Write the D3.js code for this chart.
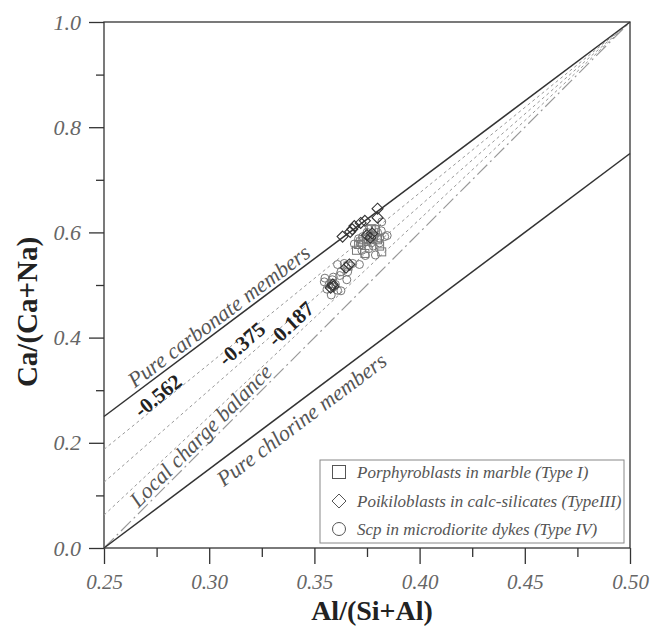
<!DOCTYPE html>
<html><head><meta charset="utf-8">
<script src="https://cdn.jsdelivr.net/npm/d3@7/dist/d3.min.js"></script>
<style>
body{margin:0;background:#fff;}
svg{display:block;}
</style></head>
<body><svg id="c" width="656" height="626"></svg>
<script>
// ---- data ----
const xTicksMajor = [0.25, 0.30, 0.35, 0.40, 0.45, 0.50];
const xTicksMinor = [0.275, 0.325, 0.375, 0.425, 0.475];
const yTicksMajor = [0.0, 0.2, 0.4, 0.6, 0.8, 1.0];
const yTicksMinor = [0.1, 0.3, 0.5, 0.7, 0.9];

// reference lines: Ca/(Ca+Na) value at Al/(Si+Al)=0.25 and 0.50
const carbonateLine = [[0.25, 0.25], [0.50, 1.00]];
const chlorineLine  = [[0.25, 0.00], [0.50, 0.75]];
const chargeLine    = [[0.25, 0.00], [0.50, 1.00]];
const dottedLabels  = ["-0.562", "-0.375", "-0.187"];
const dottedLines   = [
  [[0.25, 0.1875], [0.50, 1.00]],
  [[0.25, 0.125],  [0.50, 1.00]],
  [[0.25, 0.0625], [0.50, 1.00]]
];

const typeI = [ // Porphyroblasts in marble
  [0.370,0.566],[0.371,0.577],[0.373,0.586],[0.375,0.588],[0.378,0.592],
  [0.380,0.586],[0.381,0.574],[0.382,0.563],[0.377,0.607],[0.379,0.605],
  [0.374,0.560],[0.372,0.582],[0.358,0.503],[0.366,0.536]
];
const typeIII = [ // Poikiloblasts in calc-silicates
  [0.380,0.645],[0.380,0.628],[0.374,0.622],[0.372,0.618],[0.369,0.612],
  [0.368,0.606],[0.367,0.601],[0.3634,0.592],[0.375,0.595],[0.3766,0.590],
  [0.3774,0.598],[0.3666,0.539],[0.365,0.533],[0.3587,0.501],[0.3577,0.495],
  [0.359,0.497]
];
const typeIV = [ // Scp in microdiorite dykes
  [0.371,0.588],[0.3726,0.577],[0.3746,0.582],[0.3766,0.585],[0.3786,0.594],
  [0.380,0.600],[0.3818,0.603],[0.3834,0.592],[0.3846,0.594],[0.3758,0.569],
  [0.3742,0.556],[0.379,0.557],[0.3726,0.566],[0.381,0.580],[0.378,0.574],
  [0.375,0.600],[0.376,0.606],[0.382,0.620],[0.379,0.607],[0.377,0.580],
  [0.373,0.592],[0.369,0.578],[0.381,0.589],
  [0.361,0.539],[0.3642,0.541],[0.3682,0.541],[0.3714,0.539],[0.3626,0.525],
  [0.3658,0.525],[0.362,0.518],[0.359,0.515],[0.3654,0.510],[0.355,0.513],
  [0.3547,0.506],[0.357,0.501],[0.360,0.501],[0.3626,0.489],[0.358,0.481],
  [0.361,0.490],[0.356,0.492],[0.3585,0.510]
];
const legendLabels = [
  "Porphyroblasts in marble (Type I)",
  "Poikiloblasts in calc-silicates (TypeIII)",
  "Scp in microdiorite dykes (Type IV)"
];

// ---- drawing ----
const svg = d3.select("#c");
const L = 104, R = 630, T = 22, B = 548;
const x = d3.scaleLinear().domain([0.25, 0.50]).range([L, R]);
const y = d3.scaleLinear().domain([0, 1]).range([B, T]);
const serif = "'Liberation Serif','Times New Roman',serif";

const g = svg.append("g");

// frame
g.append("rect").attr("x", L).attr("y", T).attr("width", R - L).attr("height", B - T)
  .attr("fill", "none").attr("stroke", "#333").attr("stroke-width", 1.3);

function styleAxis(sel){
  sel.select(".domain").remove();
  sel.selectAll(".tick line").attr("stroke", "#333").attr("stroke-width", 1.3);
}
const xMaj = g.append("g").attr("transform", `translate(0,${B})`)
  .call(d3.axisBottom(x).tickValues(xTicksMajor).tickSize(16).tickPadding(10).tickFormat(d3.format(".2f")));
styleAxis(xMaj);
xMaj.selectAll("text").attr("font-family", serif).attr("font-style", "italic")
  .attr("font-size", 21).attr("fill", "#666");
const xMin = g.append("g").attr("transform", `translate(0,${B})`)
  .call(d3.axisBottom(x).tickValues(xTicksMinor).tickSize(9).tickFormat(""));
styleAxis(xMin);

const yMaj = g.append("g").attr("transform", `translate(${L},0)`)
  .call(d3.axisLeft(y).tickValues(yTicksMajor).tickSize(15).tickPadding(8).tickFormat(d3.format(".1f")));
styleAxis(yMaj);
yMaj.selectAll("text").attr("font-family", serif).attr("font-style", "italic")
  .attr("font-size", 22).attr("fill", "#666");
const yMin = g.append("g").attr("transform", `translate(${L},0)`)
  .call(d3.axisLeft(y).tickValues(yTicksMinor).tickSize(8).tickFormat(""));
styleAxis(yMin);

// axis titles
svg.append("text").attr("x", 372).attr("y", 620).attr("text-anchor", "middle")
  .attr("font-family", serif).attr("font-weight", "bold").attr("font-size", 28).attr("fill", "#222")
  .text("Al/(Si+Al)");
svg.append("text").attr("transform", "translate(37,312) rotate(-90)").attr("text-anchor", "middle")
  .attr("font-family", serif).attr("font-weight", "bold").attr("font-size", 29).attr("fill", "#222")
  .text("Ca/(Ca+Na)");

// lines
const line = d3.line().x(d => x(d[0])).y(d => y(d[1]));
dottedLines.forEach(pts => {
  g.append("path").attr("d", line(pts)).attr("fill", "none")
    .attr("stroke", "#999").attr("stroke-width", 1).attr("stroke-dasharray", "3,3");
});
g.append("path").attr("d", line(chargeLine)).attr("fill", "none")
  .attr("stroke", "#999").attr("stroke-width", 1.2).attr("stroke-dasharray", "14,4,2,4");
g.append("path").attr("d", line(carbonateLine)).attr("fill", "none")
  .attr("stroke", "#333").attr("stroke-width", 1.5);
g.append("path").attr("d", line(chlorineLine)).attr("fill", "none")
  .attr("stroke", "#333").attr("stroke-width", 1.5);

// labels along lines, centred on a point, rotated to the line's slope
function lineLabel(pts, cx, cy, text, opts){
  const ang = Math.atan2(y(pts[1][1]) - y(pts[0][1]), x(pts[1][0]) - x(pts[0][0])) * 180 / Math.PI;
  g.append("text").attr("transform", `translate(${x(cx)},${y(cy)}) rotate(${ang})`)
    .attr("x", 0).attr("y", 0).attr("dy", "0.32em").attr("text-anchor", "middle")
    .attr("font-family", serif).attr("font-size", opts.size)
    .attr("font-style", opts.italic ? "italic" : "normal")
    .attr("font-weight", opts.bold ? "bold" : "normal")
    .attr("fill", opts.color).text(text);
}
const it = {size: 22, italic: true, color: "#555"};
const bd = {size: 21, bold: true, color: "#222"};
lineLabel(carbonateLine, 0.3047, 0.4401, "Pure carbonate members", it);
lineLabel(chlorineLine, 0.3440, 0.2433, "Pure chlorine members", it);
lineLabel(chargeLine, 0.2961, 0.2129, "Local charge balance", it);
lineLabel(dottedLines[0], 0.2757, 0.2890, dottedLabels[0], bd);
lineLabel(dottedLines[1], 0.3156, 0.3878, dottedLabels[1], bd);
lineLabel(dottedLines[2], 0.3389, 0.4259, dottedLabels[2], bd);

// symbols
const sq = 8, dia = 5.5, cr = 4;
function drawSquares(sel, data, s, col){
  sel.selectAll(null).data(data).enter().append("rect")
    .attr("x", d => x(d[0]) - s/2).attr("y", d => y(d[1]) - s/2)
    .attr("width", s).attr("height", s)
    .attr("fill", "none").attr("stroke", col).attr("stroke-width", 1);
}
function drawDiamonds(sel, data, h, col){
  sel.selectAll(null).data(data).enter().append("path")
    .attr("d", d => { const cx = x(d[0]), cy = y(d[1]);
      return `M${cx},${cy-h}L${cx+h},${cy}L${cx},${cy+h}L${cx-h},${cy}Z`; })
    .attr("fill", "none").attr("stroke", col).attr("stroke-width", 1.1);
}
function drawCircles(sel, data, r, col){
  sel.selectAll(null).data(data).enter().append("circle")
    .attr("cx", d => x(d[0])).attr("cy", d => y(d[1])).attr("r", r)
    .attr("fill", "none").attr("stroke", col).attr("stroke-width", 1);
}
const pts = g.append("g");
drawCircles(pts, typeIV, cr, "#777");
drawSquares(pts, typeI, sq, "#777");
drawDiamonds(pts, typeIII, dia, "#333");

// legend
const lg = svg.append("g");
lg.append("rect").attr("x", 320).attr("y", 460).attr("width", 304).attr("height", 83)
  .attr("fill", "#fff").attr("stroke", "#888").attr("stroke-width", 1);
const rowY = [472, 501, 529];
lg.append("rect").attr("x", 339 - 6.5).attr("y", rowY[0] - 6.5).attr("width", 13).attr("height", 13)
  .attr("fill", "none").attr("stroke", "#555");
lg.append("path").attr("d", `M339,${rowY[1]-7}L346,${rowY[1]}L339,${rowY[1]+7}L332,${rowY[1]}Z`)
  .attr("fill", "none").attr("stroke", "#555");
lg.append("circle").attr("cx", 339).attr("cy", rowY[2]).attr("r", 6.5)
  .attr("fill", "none").attr("stroke", "#555");
legendLabels.forEach((t, i) => {
  lg.append("text").attr("x", 357).attr("y", rowY[i] + 5.5)
    .attr("font-family", serif).attr("font-style", "italic").attr("font-size", 17)
    .attr("fill", "#555").text(t);
});
</script></body></html>
